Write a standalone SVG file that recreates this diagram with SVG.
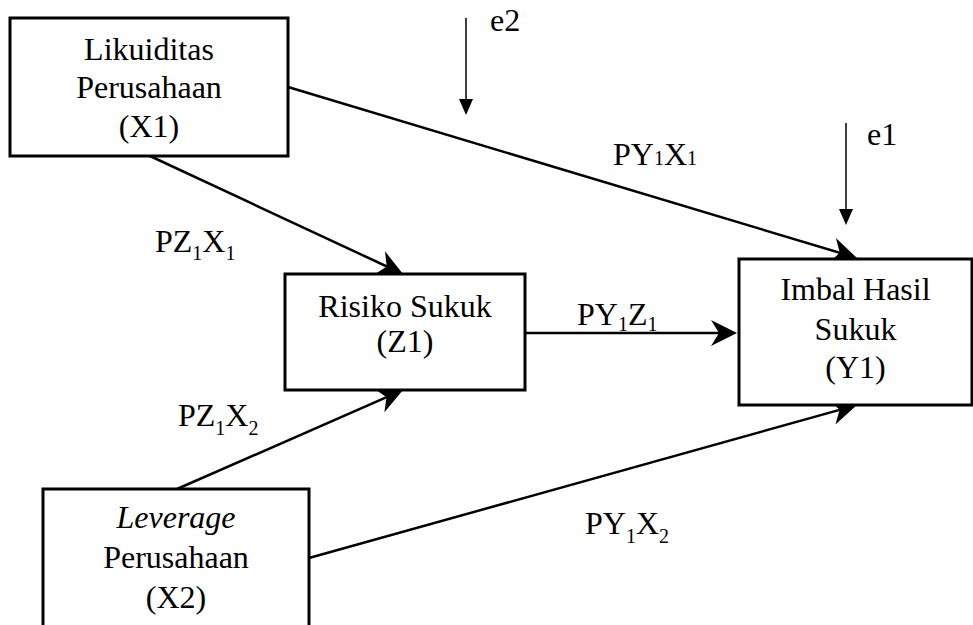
<svg xmlns="http://www.w3.org/2000/svg" width="973" height="625" viewBox="0 0 973 625">
  <style>
    .box { fill: #fff; stroke: #000; stroke-width: 3; }
    .lbl { font-family: "Liberation Serif", "Times New Roman", serif; font-size: 32px; fill: #000; }
    .mid { text-anchor: middle; }
    .sub { font-size: 20px; }
    .path { stroke: #000; stroke-width: 2.5; fill: none; marker-end: url(#head); }
    .err { stroke: #000; stroke-width: 1.5; fill: none; marker-end: url(#headSmall); }
  </style>
  <defs>
    <marker id="head" markerUnits="userSpaceOnUse" viewBox="0 0 26 26" markerWidth="26" markerHeight="26" refX="20" refY="13" orient="auto">
      <path d="M26,13 L0,0 L8,13 L0,26 Z" fill="#000"/>
    </marker>
    <marker id="headSmall" markerUnits="userSpaceOnUse" viewBox="0 0 16 14" markerWidth="16" markerHeight="14" refX="12" refY="7" orient="auto">
      <path d="M16,7 L0,0 L0,14 Z" fill="#000"/>
    </marker>
  </defs>

  <rect width="973" height="625" fill="#fff"/>

  <!-- paths between variables -->
  <g id="connectors">
    <line class="path" x1="288" y1="87" x2="851.3" y2="256.3"/>
    <line class="path" x1="150" y1="156" x2="397.6" y2="271.5"/>
    <line class="path" x1="525" y1="333" x2="731" y2="333"/>
    <line class="path" x1="177" y1="489" x2="397.5" y2="392.4"/>
    <line class="path" x1="309" y1="558" x2="851.2" y2="406.6"/>
    <line class="err" x1="466" y1="18" x2="466" y2="111"/>
    <line class="err" x1="846" y1="123" x2="846" y2="221"/>
  </g>

  <g id="x1">
    <rect class="box" x="10" y="18" width="278" height="138"/>
    <text class="lbl mid" x="149" y="60">Likuiditas</text>
    <text class="lbl mid" x="149" y="98">Perusahaan</text>
    <text class="lbl mid" x="149" y="137">(X1)</text>
  </g>

  <g id="z1">
    <rect class="box" x="285" y="274" width="240" height="116"/>
    <text class="lbl mid" x="405" y="317">Risiko Sukuk</text>
    <text class="lbl mid" x="405" y="352">(Z1)</text>
  </g>

  <g id="y1">
    <rect class="box" x="739" y="259" width="233" height="146"/>
    <text class="lbl mid" x="855.5" y="300">Imbal Hasil</text>
    <text class="lbl mid" x="855.5" y="340">Sukuk</text>
    <text class="lbl mid" x="855.5" y="378">(Y1)</text>
  </g>

  <g id="x2">
    <rect class="box" x="43" y="489" width="266" height="150"/>
    <text class="lbl mid" x="176" y="528" font-style="italic">Leverage</text>
    <text class="lbl mid" x="176" y="568">Perusahaan</text>
    <text class="lbl mid" x="176" y="608">(X2)</text>
  </g>

  <!-- error terms -->
  <g id="e2"><text class="lbl" x="490" y="31">e2</text></g>
  <g id="e1"><text class="lbl" x="867" y="145">e1</text></g>

  <!-- path coefficients -->
  <g id="coefficients">
    <text class="lbl" x="613" y="165">PY<tspan class="sub">1</tspan>X<tspan class="sub">1</tspan></text>
    <text class="lbl" x="155" y="252">PZ<tspan class="sub" dy="8">1</tspan><tspan dy="-8">X</tspan><tspan class="sub" dy="8">1</tspan></text>
    <text class="lbl" x="577" y="325">PY<tspan class="sub" dy="6">1</tspan><tspan dy="-6">Z</tspan><tspan class="sub" dy="6">1</tspan></text>
    <text class="lbl" x="178" y="426">PZ<tspan class="sub" dy="9">1</tspan><tspan dy="-9">X</tspan><tspan class="sub" dy="9">2</tspan></text>
    <text class="lbl" x="585" y="534">PY<tspan class="sub" dy="9">1</tspan><tspan dy="-9">X</tspan><tspan class="sub" dy="9">2</tspan></text>
  </g>
</svg>
